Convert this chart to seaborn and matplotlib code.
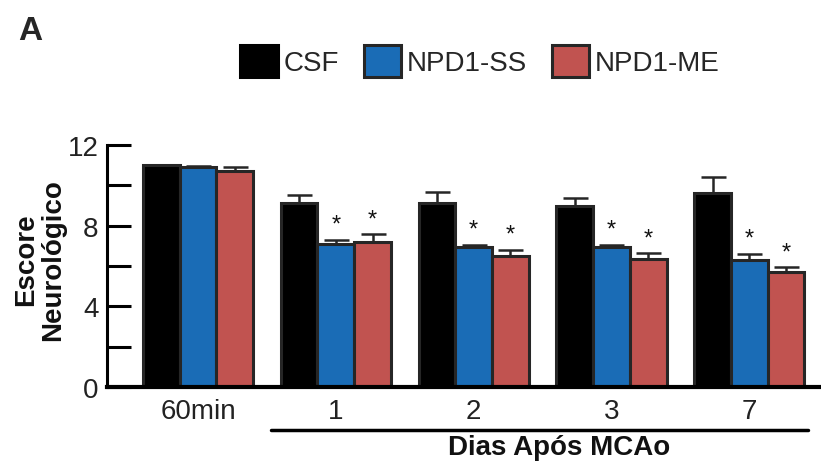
import matplotlib
matplotlib.use("Agg")
import matplotlib.pyplot as plt
from matplotlib.patches import Patch
import seaborn as sns
import pandas as pd

times = ["60min", "1", "2", "3", "7"]
groups = ["CSF", "NPD1-SS", "NPD1-ME"]
csf = [11.0, 9.1, 9.1, 9.0, 9.6]
csf_err = [0.03, 0.4, 0.55, 0.38, 0.8]
ss = [10.9, 7.1, 6.95, 6.95, 6.3]
ss_err = [0.05, 0.2, 0.1, 0.1, 0.32]
me = [10.7, 7.2, 6.5, 6.35, 5.7]
me_err = [0.2, 0.38, 0.3, 0.28, 0.24]
signif = [[False] * 5, [False, True, True, True, True], [False, True, True, True, True]]
colors = ["#000000", "#1a6cb6", "#c15350"]

sns.set_style("white")
plt.rcParams["font.family"] = ["Liberation Sans", "DejaVu Sans"]

rows = []
for g, vals in zip(groups, [csf, ss, me]):
    for t, v in zip(times, vals):
        rows.append({"time": t, "group": g, "score": v})
df = pd.DataFrame(rows)

fig = plt.figure(figsize=(8.21, 4.64), dpi=100)
ax = fig.add_axes([0.1303, 0.1638, 0.8697, 0.5215])
sns.barplot(data=df, x="time", y="score", hue="group", order=times, hue_order=groups,
            palette=colors, saturation=1, edgecolor="#262626", linewidth=2.2, width=0.8,
            errorbar=None, legend=False, ax=ax)

errs = [csf_err, ss_err, me_err]
vals_all = [csf, ss, me]
bar_containers = list(ax.containers)
for gi, cont in enumerate(bar_containers):
    for ti, bar in enumerate(cont.patches):
        xc = bar.get_x() + bar.get_width() / 2
        v = vals_all[gi][ti]
        e = errs[gi][ti]
        ax.errorbar([xc], [v], yerr=[[0], [e]], fmt="none", ecolor="#262626",
                    elinewidth=1.8, capsize=9, capthick=1.8, zorder=1)
        if signif[gi][ti]:
            ax.text(xc, v + e + 0.2, "*", ha="center", va="bottom", fontsize=17,
                    color="#111111")

ax.set_ylim(0, 12)
ax.set_xlim(-0.66, 4.52)
ax.set_yticks([0, 2, 4, 6, 8, 10, 12])
ax.set_yticklabels(["0", "", "4", "", "8", "", "12"])
ax.tick_params(axis="y", direction="in", length=17, width=2.2, labelsize=20,
               pad=6, left=True, color="black")
ax.tick_params(axis="x", length=0, labelsize=20, pad=8)
for lbl in ax.get_yticklabels() + ax.get_xticklabels():
    lbl.set_color("#222222")
ax.set_xlabel("")
ax.set_ylabel("")
for s in ["top", "right"]:
    ax.spines[s].set_visible(False)
ax.spines["left"].set_linewidth(2.2)
ax.spines["bottom"].set_linewidth(3)
ax.spines["left"].set_color("black")
ax.spines["bottom"].set_color("black")

fig.text(40 / 821, 1 - 260 / 464, "Escore\nNeurológico", ha="center", va="center",
         rotation=90, fontsize=20, fontweight="bold", linespacing=1.05,
         color="#111111")

# underline for days
fig.add_artist(plt.Line2D([271 / 821, 808 / 821], [1 - 431 / 464, 1 - 431 / 464],
                          color="black", linewidth=2.5))
fig.text(559 / 821, 1 - 448 / 464, "Dias Após MCAo", ha="center", va="center",
         fontsize=20, fontweight="bold", color="#111111")
fig.text(30 / 821, 1 - 32 / 464, "A", ha="center", va="center",
         fontsize=24, fontweight="bold")

handles = [Patch(facecolor=c, edgecolor=("#000000" if i == 0 else "#262626"),
                 linewidth=2.2) for i, c in enumerate(colors)]
fig.legend(handles, groups, loc="center", bbox_to_anchor=(480 / 821, 1 - 62 / 464),
           ncol=3, frameon=False, fontsize=20, handlelength=1.35, handleheight=1.4,
           handletextpad=0.2, columnspacing=0.9, borderpad=0)

fig.savefig("out.png", dpi=100)
